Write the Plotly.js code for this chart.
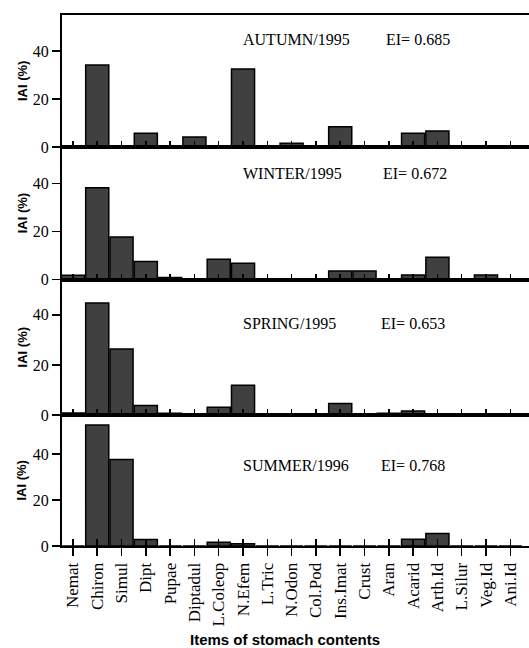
<!DOCTYPE html>
<html><head><meta charset="utf-8">
<script src="https://cdn.plot.ly/plotly-3.0.1.min.js"></script>
<style>html,body{margin:0;padding:0;background:#fff;}#chart{width:529px;height:648px;}</style>
</head><body><div id="chart"></div>
<script>
const categories = ["Nemat","Chiron","Simul","Dipt","Pupae","Diptadul","L.Coleop","N.Efem","L.Tric","N.Odon","Col.Pod","Ins.Imat","Crust","Aran","Acarid","Arth.Id","L.Silur","Veg.Id","Ani.Id"];
const autumn1995 = [0, 34.2, 0, 5.8, 0, 4.2, 0, 32.5, 0, 1.6, 0, 8.5, 0, 0, 5.7, 6.7, 0, 0, 0];
const winter1995 = [1.8, 38.3, 17.8, 7.6, 0.9, 0, 8.5, 6.8, 0, 0, 0, 3.6, 3.6, 0, 1.9, 9.3, 0, 1.9, 0];
const spring1995 = [0.9, 44.7, 26.4, 3.9, 0.8, 0, 3.2, 11.9, 0, 0, 0, 4.7, 0, 0.8, 1.7, 0, 0, 0, 0];
const summer1996 = [0, 52.5, 37.6, 2.8, 0, 0, 1.6, 1.0, 0, 0, 0, 0, 0, 0, 2.9, 5.4, 0, 0, 0];
const seasonLabels = ["AUTUMN/1995", "WINTER/1995", "SPRING/1995", "SUMMER/1996"];
const eiLabels = ["EI= 0.685", "EI= 0.672", "EI= 0.653", "EI= 0.768"];
const yTickVals = [0, 20, 40];
const yTitle = "IAI (%)";
const xTitle = "Items of stomach contents";

const series = [autumn1995, winter1995, spring1995, summer1996];
const domains = [[0.7513, 1], [0.5016, 0.7513], [0.2463, 0.5016], [0, 0.2463]];
const yRanges = [[0, 55], [0, 55.2], [0, 54], [0, 56.8]];
const labelY = [44.6, 44.2, 36.7, 35.1];
const eiX = [0.6895, 0.6825, 0.6795, 0.6795];
const xRange = [-0.45, 18.77];
const serif = "Liberation Serif, Times New Roman, serif";
const sans = "Liberation Sans, Arial, sans-serif";

const data = series.map((vals, i) => ({
  type: 'bar', x: categories, y: vals,
  xaxis: i === 0 ? 'x' : 'x' + (i + 1),
  yaxis: i === 0 ? 'y' : 'y' + (i + 1),
  marker: {color: '#404040', line: {color: '#000', width: 1.5}},
  showlegend: false, hoverinfo: 'skip'
}));
// empty helper trace so the overlay axis (inner half of the crossing ticks) is drawn
data.push({type: 'scatter', x: [], y: [], xaxis: 'x5', yaxis: 'y4', showlegend: false, hoverinfo: 'skip'});

const layout = {
  width: 529, height: 648,
  margin: {l: 62, r: 0, t: 15, b: 102},
  paper_bgcolor: '#fff', plot_bgcolor: '#fff',
  bargap: 0.05,
  font: {family: serif, color: '#000', size: 16},
  annotations: []
};

for (let i = 0; i < 4; i++) {
  const xs = i === 0 ? 'xaxis' : 'xaxis' + (i + 1);
  const ys = i === 0 ? 'yaxis' : 'yaxis' + (i + 1);
  const yid = i === 0 ? 'y' : 'y' + (i + 1);
  const xid = i === 0 ? 'x' : 'x' + (i + 1);
  const last = i === 3;
  layout[xs] = {
    anchor: yid, domain: [0, 1], type: 'category',
    categoryorder: 'array', categoryarray: categories,
    range: xRange, showgrid: false, zeroline: false,
    showline: true, linecolor: '#000', linewidth: 2, mirror: true,
    ticks: last ? 'outside' : 'inside', ticklen: last ? 8 : 6, tickwidth: 1.5, tickcolor: '#000',
    showticklabels: last, tickangle: -90,
    tickfont: {family: serif, size: 17, color: '#000'}
  };
  layout[ys] = {
    anchor: xid, domain: domains[i], range: yRanges[i],
    tickmode: 'array', tickvals: yTickVals,
    showgrid: false, zeroline: false,
    showline: true, linecolor: '#000', linewidth: 2,
    ticks: 'outside', ticklen: 8, tickwidth: 1.5, tickcolor: '#000',
    tickfont: {family: serif, size: 16, color: '#000'}
  };
  layout.annotations.push({
    text: seasonLabels[i], xref: 'paper', yref: yid, x: 0.383, y: labelY[i],
    xanchor: 'left', yanchor: 'middle', showarrow: false,
    font: {family: serif, size: 16, color: '#000'}
  });
  layout.annotations.push({
    text: eiLabels[i], xref: 'paper', yref: yid, x: eiX[i], y: labelY[i],
    xanchor: 'left', yanchor: 'middle', showarrow: false,
    font: {family: serif, size: 16, color: '#000'}
  });
  layout.annotations.push({
    text: '<b>' + yTitle + '</b>', xref: 'paper', yref: yid + ' domain', x: -0.0857, y: 0.5,
    xanchor: 'center', yanchor: 'middle', textangle: -90, showarrow: false,
    font: {family: sans, size: 13, color: '#000'}
  });
}

layout.xaxis5 = {
  overlaying: 'x4', anchor: 'y4', type: 'linear', range: xRange,
  tickmode: 'linear', tick0: 0, dtick: 1,
  ticks: 'inside', ticklen: 7, tickwidth: 1.5, tickcolor: '#000',
  showticklabels: false, showgrid: false, zeroline: false, showline: false
};

layout.annotations.push({
  text: '<b>' + xTitle + '</b>', xref: 'paper', yref: 'paper',
  x: 0.4775, y: -0.1755, xanchor: 'center', yanchor: 'middle', showarrow: false,
  font: {family: sans, size: 15, color: '#000'}
});

Plotly.newPlot('chart', data, layout, {staticPlot: true, displayModeBar: false});
</script>
</body></html>
